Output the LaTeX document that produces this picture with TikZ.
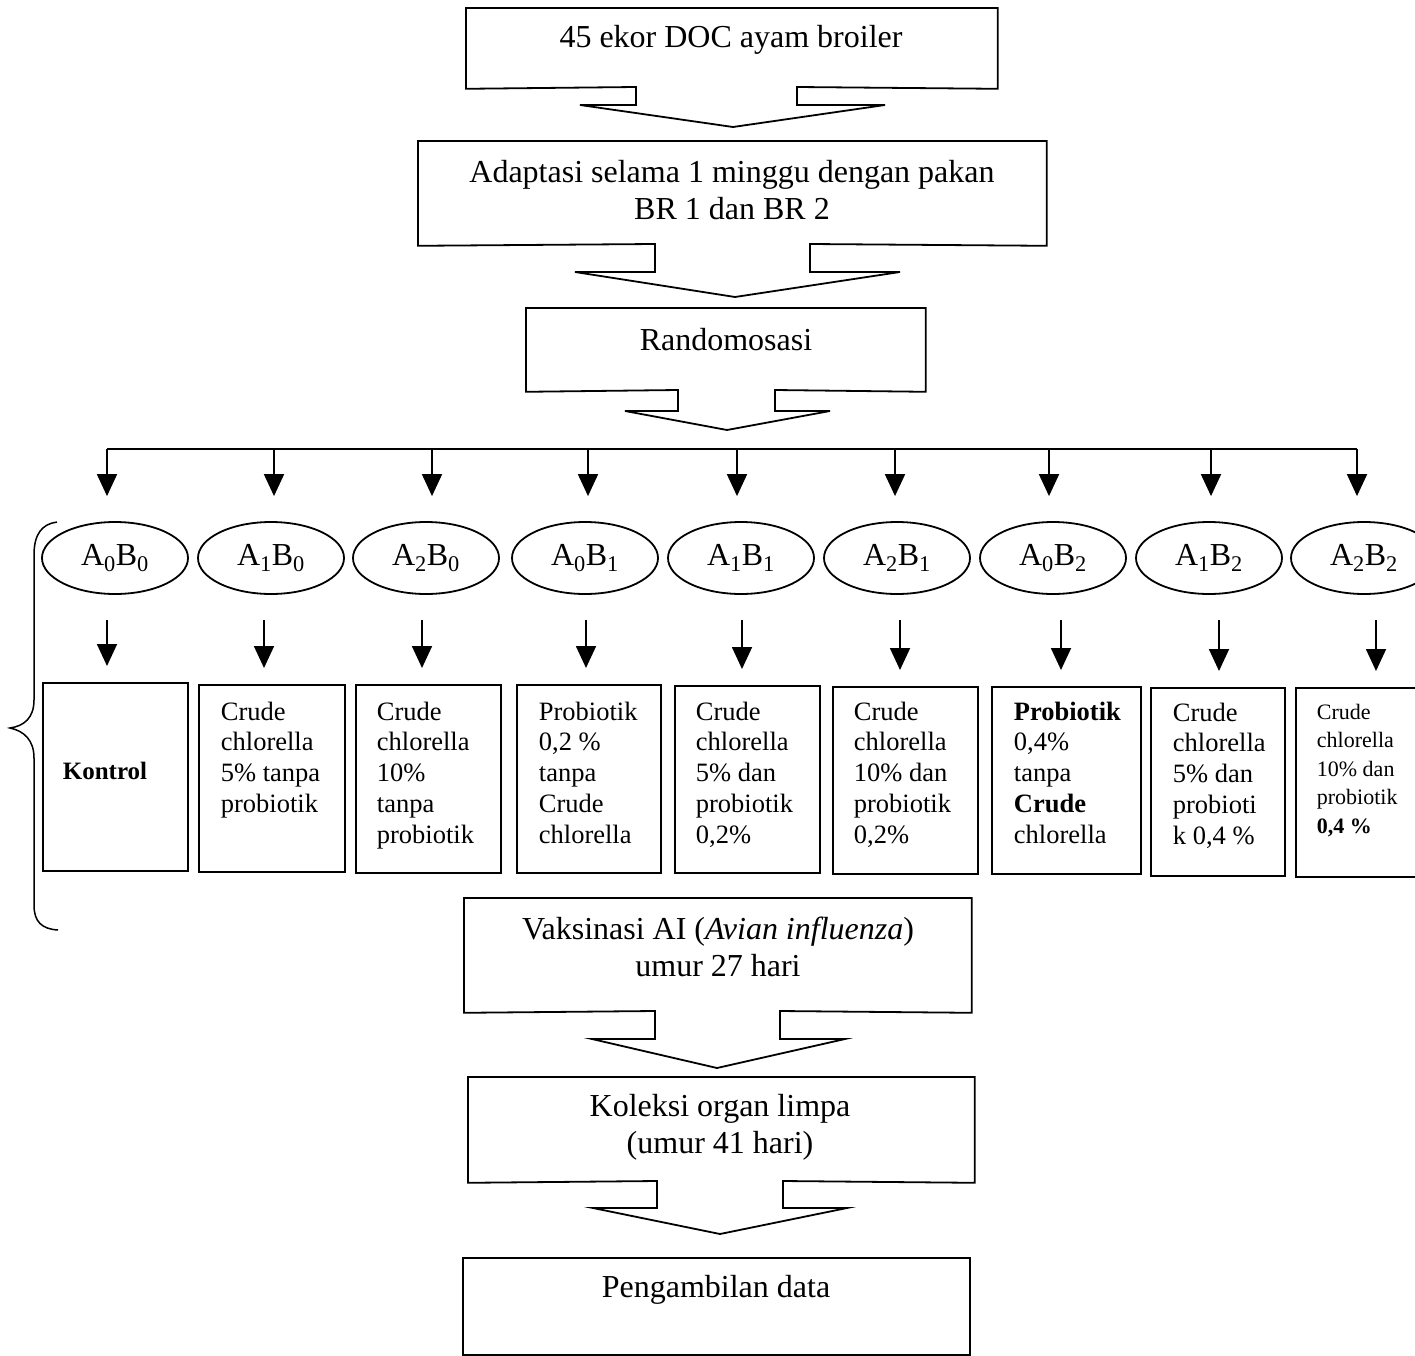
\documentclass[tikz,border=0pt]{standalone}
\usepackage{fontspec}
\setmainfont{Liberation Serif}
\usetikzlibrary{arrows.meta,shapes.geometric,calc}
\begin{document}
\begin{tikzpicture}[x=1pt,y=-1pt,
  line width=1.8pt,
  bigtext/.style={font=\fontsize{32}{37}\selectfont, align=center, inner sep=0pt},
  smalltext/.style={font=\fontsize{26.5}{30.7}\selectfont, align=left, anchor=north west, inner sep=0pt},
  tinytext/.style={font=\fontsize{22}{28.5}\selectfont, align=left, anchor=north west, inner sep=0pt},
  plainbox/.style={draw, rectangle, inner sep=0pt, anchor=north west},
  openbox/.style={rectangle, inner sep=0pt, anchor=north west},
  grp/.style={draw, ellipse, minimum width=146pt, minimum height=72pt, inner sep=0pt, font=\fontsize{32}{37}\selectfont},
  arr/.style={-{Triangle[width=20pt,length=22pt]}, line width=1.8pt},
]
\path[use as bounding box] (0,0) rectangle (1415,1356);
\clip (0,0) rectangle (1415,1356);

% ---- top flow ----
\node[openbox, minimum width=530pt, minimum height=79pt] (b1) at (466,8) {};
\node[bigtext] (t1) at (731,40) {45 ekor DOC ayam broiler};
\draw (636,87) -- (b1.south west) -- (b1.north west) -- (b1.north east) -- (b1.south east)
  -- (797,87) -- (797,105) -- (885,105) -- (733,127) coordinate (a1) -- (580,105) -- (636,105) -- cycle;

\node[openbox, minimum width=627pt, minimum height=103pt] (b2) at (418,141) {};
\node[bigtext] (t2) at (732,190) {Adaptasi selama 1 minggu dengan pakan\\BR 1 dan BR 2};
\draw (655,244) -- (b2.south west) -- (b2.north west) -- (b2.north east) -- (b2.south east)
  -- (810,244) -- (810,272) -- (900,272) -- (735,297) coordinate (a2) -- (575,272) -- (655,272) -- cycle;

\node[openbox, minimum width=398pt, minimum height=82pt] (b3) at (526,308) {};
\node[bigtext] (t3) at (726,340) {Randomosasi};
\draw (678,390) -- (b3.south west) -- (b3.north west) -- (b3.north east) -- (b3.south east)
  -- (775,390) -- (775,411) -- (830,411) -- (727,430) coordinate (a3) -- (625,411) -- (678,411) -- cycle;

% ---- bus ----
\foreach \i/\x in {1/107,2/274,3/432,4/588,5/737,6/895,7/1049,8/1211,9/1357}
  \coordinate (bus\i) at (\x,449);
\draw (bus1) -- (bus9);

% ---- groups ----
\foreach \i/\x/\lab in {1/115/A\textsubscript{0}B\textsubscript{0},
                        2/271/A\textsubscript{1}B\textsubscript{0},
                        3/426/A\textsubscript{2}B\textsubscript{0},
                        4/585/A\textsubscript{0}B\textsubscript{1},
                        5/741/A\textsubscript{1}B\textsubscript{1},
                        6/897/A\textsubscript{2}B\textsubscript{1},
                        7/1053/A\textsubscript{0}B\textsubscript{2},
                        8/1209/A\textsubscript{1}B\textsubscript{2},
                        9/1364/A\textsubscript{2}B\textsubscript{2}}
  \node[grp] (e\i) at (\x,558) {\lab};

\foreach \i in {1,...,9}
  \draw[arr, shorten >=25pt] (bus\i) -- (bus\i |- e\i.north);

% ---- treatment boxes ----
\node[plainbox, minimum width=145pt, minimum height=188pt] (r1) at (42,682) {};
\node[plainbox, minimum width=146pt, minimum height=187pt] (r2) at (198,684) {};
\node[plainbox, minimum width=145pt, minimum height=188pt] (r3) at (355,684) {};
\node[plainbox, minimum width=144pt, minimum height=188pt] (r4) at (516,684) {};
\node[plainbox, minimum width=145pt, minimum height=187pt] (r5) at (674,685) {};
\node[plainbox, minimum width=145pt, minimum height=187pt] (r6) at (832,686) {};
\node[plainbox, minimum width=149pt, minimum height=187pt] (r7) at (991,686) {};
\node[plainbox, minimum width=134pt, minimum height=188pt] (r8) at (1150,687) {};
\node[plainbox, minimum width=130pt, minimum height=189pt] (r9) at (1295,687) {};

\foreach \i/\x in {1/107,2/264,3/422,4/586,5/742,6/900,7/1061,8/1219,9/1376}
  \coordinate (d\i) at (\x,594);
\foreach \i in {1,...,9}
  \draw[arr, shorten <=26pt, shorten >=16pt] (d\i) -- (d\i |- r\i.north);

\node[font=\fontsize{25}{30}\selectfont\bfseries, inner sep=0pt] (x1) at (105,771) {Kontrol};
\node[smalltext] (x2) at ($(r2.north west)+(22,17)$) {Crude\\chlorella\\5\% tanpa\\probiotik};
\node[smalltext] (x3) at ($(r3.north west)+(21,17)$) {Crude\\chlorella\\10\%\\tanpa\\probiotik};
\node[smalltext] (x4) at ($(r4.north west)+(22,17)$) {Probiotik\\0,2 \%\\tanpa\\Crude\\chlorella};
\node[smalltext] (x5) at ($(r5.north west)+(21,16)$) {Crude\\chlorella\\5\% dan\\probiotik\\0,2\%};
\node[smalltext] (x6) at ($(r6.north west)+(21,15)$) {Crude\\chlorella\\10\% dan\\probiotik\\0,2\%};
\node[smalltext] (x7) at ($(r7.north west)+(22,15)$) {\textbf{Probiotik}\\0,4\%\\tanpa\\\textbf{Crude}\\chlorella};
\node[smalltext] (x8) at ($(r8.north west)+(22,15)$) {Crude\\chlorella\\5\% dan\\probioti\\k 0,4 \%};
\node[tinytext] (x9) at ($(r9.north west)+(21,16)$) {Crude\\chlorella\\10\% dan\\probiotik\\\textbf{0,4 \%}};

% ---- brace ----
\draw[line width=1.5pt] (57,522) .. controls (42,524) and (34,534) .. (34,555) -- (34,700)
  .. controls (34,718) and (24,726) .. (10,728)
  .. controls (24,731) and (34,740) .. (34,758) -- (34,905)
  .. controls (34,922) and (42,929) .. (58,930);

% ---- bottom flow ----
\node[openbox, minimum width=506pt, minimum height=113pt] (b4) at (464,898) {};
\node[bigtext] (t4) at (718,947) {Vaksinasi AI (\textit{Avian influenza})\\umur 27 hari};
\draw (655,1011) -- (b4.south west) -- (b4.north west) -- (b4.north east) -- (b4.south east)
  -- (780,1011) -- (780,1039) -- (845,1039) -- (717,1068) coordinate (a4) -- (592,1039) -- (655,1039) -- cycle;

\node[openbox, minimum width=505pt, minimum height=104pt] (b5) at (468,1077) {};
\node[bigtext] (t5) at (720,1127) {Koleksi organ limpa\\(umur 41 hari)};
\draw (657,1181) -- (b5.south west) -- (b5.north west) -- (b5.north east) -- (b5.south east)
  -- (783,1181) -- (783,1208) -- (847,1208) -- (720,1234) coordinate (a5) -- (593,1208) -- (657,1208) -- cycle;

\node[plainbox, minimum width=507pt, minimum height=97pt] (b6) at (462,1257) {};
\node[bigtext] (t6) at (716,1290) {Pengambilan data};
\end{tikzpicture}
\end{document}
